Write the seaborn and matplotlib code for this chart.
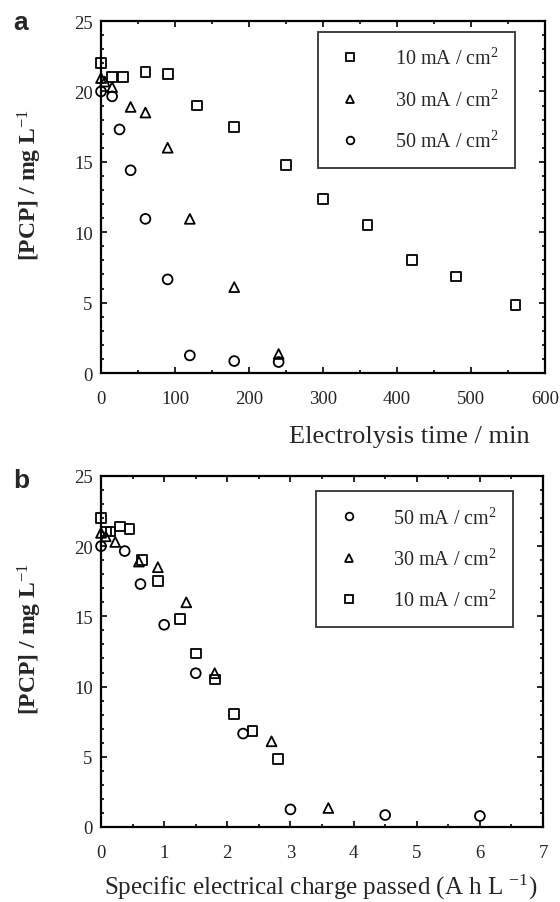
import numpy as np
import pandas as pd
import matplotlib
matplotlib.use("Agg")
import matplotlib.pyplot as plt
import seaborn as sns
from matplotlib.ticker import MultipleLocator

# ---------------- data ----------------
time_10 = [0, 15, 30, 60, 90, 130, 180, 250, 300, 360, 420, 480, 560]
pcp_10 = [22.0, 21.05, 21.05, 21.4, 21.25, 19.0, 17.5, 14.8, 12.35, 10.5, 8.05, 6.85, 4.85]
charge_10 = [0, 0.075, 0.15, 0.3, 0.45, 0.65, 0.9, 1.25, 1.5, 1.8, 2.1, 2.4, 2.8]

time_30 = [0, 5, 15, 40, 60, 90, 120, 180, 240]
pcp_30 = [20.95, 20.7, 20.3, 18.9, 18.5, 16.0, 10.95, 6.1, 1.35]
charge_30 = [0, 0.075, 0.225, 0.6, 0.9, 1.35, 1.8, 2.7, 3.6]

time_50 = [0, 15, 25, 40, 60, 90, 120, 180, 240]
pcp_50 = [20.0, 19.65, 17.3, 14.4, 10.95, 6.65, 1.25, 0.85, 0.78]
charge_50 = [0, 0.375, 0.625, 1.0, 1.5, 2.25, 3.0, 4.5, 6.0]

labels = ["10 mA / cm$^{2}$", "30 mA / cm$^{2}$", "50 mA / cm$^{2}$"]
markers = ["s", "^", "o"]

sns.set_style("ticks")
plt.rcParams["font.family"] = ["Liberation Serif", "DejaVu Serif"]
plt.rcParams["mathtext.fontset"] = "custom"
plt.rcParams["mathtext.rm"] = "Liberation Serif"
plt.rcParams["mathtext.it"] = "Liberation Serif:italic"
plt.rcParams["mathtext.bf"] = "Liberation Serif:bold"

fig = plt.figure(figsize=(5.6, 9.03), dpi=100)
ax_a = fig.add_axes([0.1804, 0.5858, 0.7929, 0.3898])
ax_b = fig.add_axes([0.1804, 0.0831, 0.7893, 0.3887])

def draw(ax, xs, ys, order):
    handles = {}
    for i in order:
        sns.scatterplot(x=xs[i], y=ys[i], marker=markers[i], s=50,
                        color="black", facecolor="none", edgecolor="black",
                        linewidth=1.3, ax=ax, zorder=3, clip_on=False)
        handles[i] = plt.Line2D([], [], linestyle="none", marker=markers[i],
                                markersize=5.5, markerfacecolor="none",
                                markeredgecolor="black", markeredgewidth=1.3)
    return handles

def style(ax, xmax, xmaj, xmin):
    ax.set_xlim(0, xmax)
    ax.set_ylim(0, 25)
    ax.xaxis.set_major_locator(MultipleLocator(xmaj))
    ax.xaxis.set_minor_locator(MultipleLocator(xmin))
    ax.yaxis.set_major_locator(MultipleLocator(5))
    ax.yaxis.set_minor_locator(MultipleLocator(1))
    ax.tick_params(which="both", direction="in", top=True, right=True,
                   labelsize=13.5, width=1.2, color="black")
    ax.tick_params(which="major", length=4.5)
    ax.tick_params(which="minor", length=2.5)
    ax.tick_params(axis="x", pad=12)
    ax.tick_params(axis="y", pad=6)
    for sp in ax.spines.values():
        sp.set_visible(True)
        sp.set_linewidth(1.6)
        sp.set_color("black")
    ax.set_xlabel("")
    ax.set_ylabel("[PCP] / mg L$^{-1}$", fontsize=17, fontweight="bold")
    ax.yaxis.set_label_coords(-0.128, 0.537)

def legend(ax, hs, labs, top):
    leg = ax.legend(hs, labs, loc="upper right", bbox_to_anchor=(0.932, top),
                    fontsize=14.5, frameon=True, fancybox=False,
                    edgecolor="black", borderpad=0.8, labelspacing=1.0,
                    handletextpad=1.4, borderaxespad=0, handlelength=1.6)
    leg.get_frame().set_linewidth(1.3)

# panel a
ha = draw(ax_a, [time_10, time_30, time_50], [pcp_10, pcp_30, pcp_50], [0, 1, 2])
style(ax_a, 600, 100, 50)
legend(ax_a, [ha[0], ha[1], ha[2]], labels, 0.969)

# panel b
hb = draw(ax_b, [charge_10, charge_30, charge_50], [pcp_10, pcp_30, pcp_50], [2, 1, 0])
style(ax_b, 7, 1, 0.5)
legend(ax_b, [hb[2], hb[1], hb[0]], [labels[2], labels[1], labels[0]], 0.957)

fig.text(0.946, 1 - 437 / 903, "Electrolysis time / min", ha="right",
         va="center", fontsize=19)
fig.text(0.959, 1 - 887 / 903, "Specific electrical charge passed (A h L $^{-1}$)",
         ha="right", va="center", fontsize=18)

fig.text(21 / 560, 1 - 23 / 903, "a", ha="center", va="center", fontsize=19,
         fontweight="bold", family="Liberation Sans")
fig.text(21 / 560, 1 - 481 / 903, "b", ha="center", va="center", fontsize=19,
         fontweight="bold", family="Liberation Sans")

fig.savefig("out.png", dpi=100)
